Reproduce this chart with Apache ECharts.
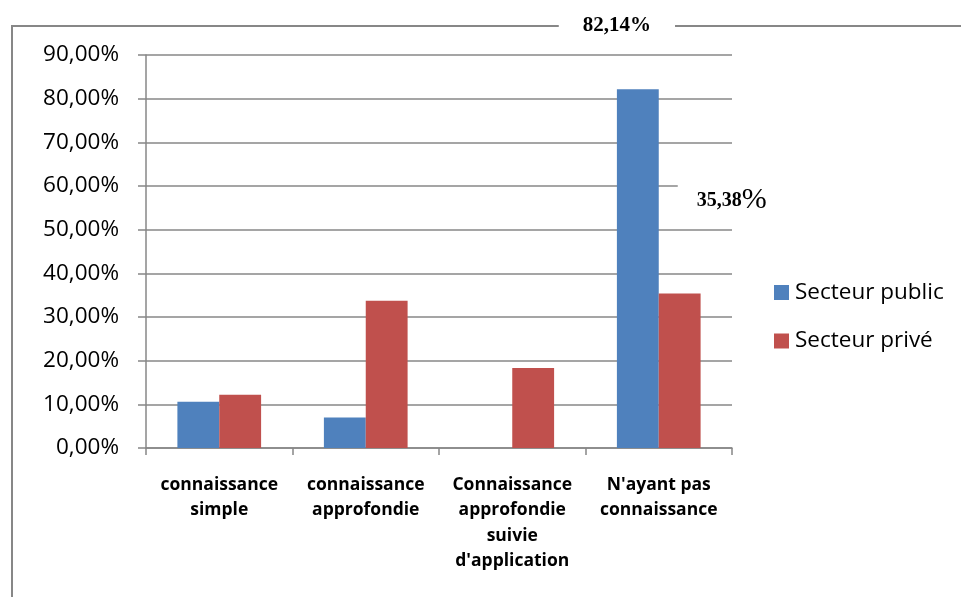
<!DOCTYPE html>
<html>
<head>
<meta charset="utf-8">
<script src="https://cdn.jsdelivr.net/npm/echarts@6/dist/echarts.min.js"></script>
<style>
  html, body { margin: 0; padding: 0; background: #fff; }
  #chart { width: 961px; height: 597px; }
</style>
</head>
<body>
<div id="chart"></div>
<script>
// Categories (x axis), with manual line breaks as they appear under the axis
const categories = [
  'connaissance\nsimple',
  'connaissance\napprofondie',
  'Connaissance\napprofondie\nsuivie\nd\'application',
  'N\'ayant pas\nconnaissance'
];

// Share of respondents, in percent
const seriesNames = ['Secteur public', 'Secteur privé'];
const publicValues = [10.6, 7.0, 0, 82.14];
const privateValues = [12.2, 33.7, 18.3, 35.38];

// Y axis ticks
const yMin = 0;
const yMax = 90;
const yStep = 10;

const fmtPct = v => v.toFixed(2).replace('.', ',') + '%';

const gray = '#878787';
const blue = '#4F81BD';
const red = '#C0504D';

const chart = echarts.init(document.getElementById('chart'), null, { renderer: 'canvas' });

// Only the last category carries a value label for each series
const publicData = publicValues.map((v, i) => i === 3 ? {
  value: v,
  label: {
    show: true,
    position: [0, -64],
    align: 'center',
    verticalAlign: 'middle',
    formatter: p => p.value.toFixed(2).replace('.', ',') + '%',
    fontFamily: '"Liberation Serif", "Times New Roman", serif',
    fontWeight: 'bold',
    fontSize: 21,
    color: '#000',
    backgroundColor: '#fff',
    padding: [6, 24]
  }
} : v);

const privateData = privateValues.map((v, i) => i === 3 ? {
  value: v,
  label: {
    show: true,
    position: [73, -93],
    align: 'center',
    verticalAlign: 'middle',
    formatter: p => '{n|' + p.value.toFixed(2).replace('.', ',') + '}{p|%}',
    backgroundColor: '#fff',
    padding: [8, 19],
    rich: {
      n: {
        fontFamily: '"Liberation Serif", "Times New Roman", serif',
        fontWeight: 'bold',
        fontSize: 20,
        color: '#000'
      },
      p: {
        fontFamily: '"Liberation Serif", "Times New Roman", serif',
        fontSize: 30,
        color: '#000'
      }
    }
  }
} : v);

chart.setOption({
  animation: false,
  backgroundColor: '#fff',
  graphic: [{
    type: 'rect',
    z: -10,
    shape: { x: 12, y: 26, width: 1100, height: 700 },
    style: { fill: 'none', stroke: gray, lineWidth: 2 },
    silent: true
  }],
  grid: { left: 146, right: 229, top: 55, bottom: 149, containLabel: false },
  legend: {
    orient: 'vertical',
    left: 769,
    top: 276,
    itemWidth: 15,
    itemHeight: 15,
    itemGap: 25.5,
    icon: 'rect',
    textStyle: {
      fontFamily: '"Open Sans", sans-serif',
      fontSize: 22.5,
      lineHeight: 22,
      color: '#000',
      padding: [0, 0, 0, 1]
    },
    data: seriesNames
  },
  xAxis: {
    type: 'category',
    data: categories,
    axisLine: { lineStyle: { color: gray, width: 1.5 } },
    axisTick: { show: true, length: 7, lineStyle: { color: gray, width: 1.5 } },
    axisLabel: {
      interval: 0,
      margin: 24,
      fontFamily: '"Open Sans", sans-serif',
      fontWeight: 'bold',
      fontSize: 17.5,
      lineHeight: 25.5,
      color: '#000'
    }
  },
  yAxis: {
    type: 'value',
    min: yMin,
    max: yMax,
    interval: yStep,
    axisLine: { show: true, lineStyle: { color: gray, width: 1.5 } },
    axisTick: { show: true, length: 8, lineStyle: { color: gray, width: 1.5 } },
    splitLine: { show: true, lineStyle: { color: gray, width: 1.5 } },
    axisLabel: {
      margin: 27,
      formatter: fmtPct,
      fontFamily: '"Open Sans", sans-serif',
      fontSize: 22.5,
      color: '#000'
    }
  },
  series: [
    {
      name: seriesNames[0],
      type: 'bar',
      data: publicData,
      itemStyle: { color: blue },
      barGap: '0%',
      barCategoryGap: '42.86%'
    },
    {
      name: seriesNames[1],
      type: 'bar',
      data: privateData,
      itemStyle: { color: red },
      barGap: '0%',
      barCategoryGap: '42.86%'
    }
  ]
});
</script>
</body>
</html>
